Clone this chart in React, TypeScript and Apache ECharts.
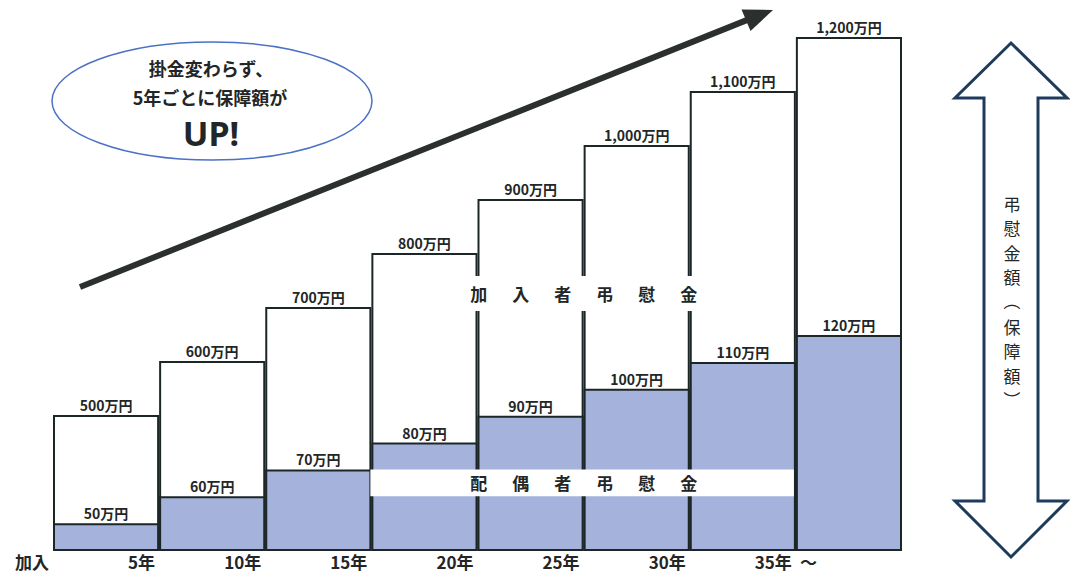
import React, { useEffect, useRef } from 'react';
import * as echarts from 'echarts';

// ---- data ----
const periods = ['加入〜5年', '5〜10年', '10〜15年', '15〜20年', '20〜25年', '25〜30年', '30〜35年', '35年〜'];
const memberBenefit = [500, 600, 700, 800, 900, 1000, 1100, 1200]; // 加入者弔慰金（万円）
const spouseBenefit = [50, 60, 70, 80, 90, 100, 110, 120]; // 配偶者弔慰金（万円）
const tickLabels = ['加入', '5年', '10年', '15年', '20年', '25年', '30年', '35年'];
const tickSuffix = '～';
const memberTitle = '加入者弔慰金';
const spouseTitle = '配偶者弔慰金';
const sideTitle = ['弔', '慰', '金', '額', '（', '保', '障', '額', '）'];
const bubbleLines = ['掛金変わらず、', '5年ごとに保障額が', 'UP!'];
// annotation ranges (category index from/to, value from/to)
const spouseBand = [3, 6, 60, 70];
const memberBand = [3, 6, 725];

const FONT = '"Noto Sans CJK JP", "Noto Sans", sans-serif';
const INK = '#222626';
const BORDER = '#1d2626';
const BLUE = '#a5b2dc';

const yen = (v: number) => `${v.toLocaleString('en-US')}万円`;

const spacedRich = (s: string) =>
  s.split('').map((c) => `{c|${c}}`).join('{s|　}');

export default function App() {
  const ref = useRef<HTMLDivElement>(null);
  useEffect(() => {
    const chart = echarts.init(ref.current!, null, { renderer: 'svg' });
    const gridH = 540;
    const whitePx = 0.54;
    const bluePx = 2.686;

    const sideTexts = sideTitle.map((ch, i) => {
      const isParen = ch === '（' || ch === '）';
      return {
        type: 'text',
        x: 1012,
        y: 203 + i * 24.6,
        rotation: isParen ? -Math.PI / 2 : 0,
        style: {
          text: ch, align: 'center', verticalAlign: 'middle',
          fontSize: 17, fill: INK, fontFamily: FONT,
        },
      };
    });

    const option: any = {
      animation: false,
      grid: { left: 53, right: 168, top: 10, bottom: 25 },
      xAxis: [
        { type: 'category', data: periods, show: false, position: 'bottom' },
        {
          type: 'value', min: 0, max: 8, interval: 1, position: 'bottom',
          axisLine: { show: false }, axisTick: { show: false }, splitLine: { show: false },
          axisLabel: {
            formatter: (v: number) => tickLabels[v] ?? '',
            align: 'right', padding: [0, 4, 0, 0], margin: 3,
            fontSize: 17, fontWeight: 'bold', color: INK, fontFamily: FONT,
          },
        },
        {
          type: 'value', min: 0, max: 8, interval: 1, position: 'bottom',
          axisLine: { show: false }, axisTick: { show: false }, splitLine: { show: false },
          axisLabel: {
            formatter: (v: number) => (v === tickLabels.length - 1 ? tickSuffix : ''),
            align: 'left', padding: [0, 0, 0, 4], margin: 3,
            fontSize: 17, fontWeight: 'bold', color: INK, fontFamily: FONT,
          },
        },
      ],
      yAxis: [
        { type: 'value', min: 250, max: 250 + gridH / whitePx, show: false, position: 'left' },
        { type: 'value', min: 40, max: 40 + gridH / bluePx, show: false, position: 'right' },
      ],
      series: [
        {
          type: 'bar', name: memberTitle, xAxisIndex: 0, yAxisIndex: 0,
          data: memberBenefit, barWidth: '100%', barGap: '-100%',
          itemStyle: { color: '#ffffff', borderColor: BORDER, borderWidth: 2 },
          label: {
            show: true, position: 'top', distance: 3,
            formatter: (p: any) => yen(memberBenefit[p.dataIndex]),
            fontSize: 14, fontWeight: 'bold', color: INK, fontFamily: FONT,
          },
        },
        {
          type: 'bar', name: spouseTitle, xAxisIndex: 0, yAxisIndex: 1,
          data: spouseBenefit, barWidth: '100%', barGap: '-100%',
          itemStyle: { color: BLUE, borderColor: BORDER, borderWidth: 2 },
          label: {
            show: true, position: 'top', distance: 3,
            formatter: (p: any) => yen(spouseBenefit[p.dataIndex]),
            fontSize: 14, fontWeight: 'bold', color: INK, fontFamily: FONT,
          },
        },
        {
          type: 'custom', xAxisIndex: 0, yAxisIndex: 1, z: 5,
          encode: { x: [0, 1], y: [2, 3] },
          data: [spouseBand],
          renderItem: (params: any, api: any) => {
            const p0 = api.coord([api.value(0), api.value(2)]);
            const p1 = api.coord([api.value(1), api.value(3)]);
            const bw = api.size([1, 0])[0];
            const x0 = p0[0] - bw / 2 - 1;
            const x1 = p1[0] + bw / 2 - 2;
            return {
              type: 'group',
              children: [
                { type: 'rect', shape: { x: x0, y: p1[1], width: x1 - x0, height: p0[1] - p1[1] }, style: { fill: '#ffffff' } },
                {
                  type: 'text', x: (p0[0] + p1[0]) / 2, y: (p0[1] + p1[1]) / 2,
                  style: {
                    text: spacedRich(spouseTitle), align: 'center', verticalAlign: 'middle',
                    rich: {
                      c: { fontSize: 17, fontWeight: 'bold', fill: INK, fontFamily: FONT },
                      s: { fontSize: 25, fontFamily: FONT },
                    },
                  },
                },
              ],
            };
          },
        },
        {
          type: 'custom', xAxisIndex: 0, yAxisIndex: 0, z: 5,
          encode: { x: [0, 1], y: 2 },
          data: [memberBand],
          renderItem: (params: any, api: any) => {
            const p0 = api.coord([api.value(0), api.value(2)]);
            const p1 = api.coord([api.value(1), api.value(2)]);
            return {
              type: 'text', x: (p0[0] + p1[0]) / 2, y: p0[1],
              style: {
                text: spacedRich(memberTitle), align: 'center', verticalAlign: 'middle',
                backgroundColor: '#ffffff', padding: [5, 8],
                rich: {
                  c: { fontSize: 17, fontWeight: 'bold', fill: INK, fontFamily: FONT },
                  s: { fontSize: 25, fontFamily: FONT },
                },
              },
            };
          },
        },
      ],
      graphic: [
        {
          type: 'ellipse', shape: { cx: 212, cy: 101, rx: 160, ry: 59 },
          style: { fill: '#ffffff', stroke: '#4b72c4', lineWidth: 1.5 },
        },
        {
          type: 'text', x: 211, y: 68,
          style: { text: bubbleLines[0], align: 'center', verticalAlign: 'middle', fontSize: 18, fontWeight: 'bold', fill: INK, fontFamily: FONT },
        },
        {
          type: 'text', x: 210, y: 97,
          style: { text: bubbleLines[1], align: 'center', verticalAlign: 'middle', fontSize: 18, fontWeight: 'bold', fill: INK, fontFamily: FONT },
        },
        {
          type: 'text', x: 211, y: 133,
          style: { text: bubbleLines[2], align: 'center', verticalAlign: 'middle', fontSize: 34, fontWeight: 'bold', fill: INK, fontFamily: '"Noto Sans", sans-serif' },
        },
        {
          type: 'line', shape: { x1: 80, y1: 287, x2: 748, y2: 19.6 },
          style: { stroke: '#2b302f', lineWidth: 6, lineCap: 'butt' },
        },
        {
          type: 'polygon', shape: { points: [[773, 10], [750.5, 31], [741.5, 9.5]] },
          style: { fill: '#2b302f' },
        },
        {
          type: 'polygon',
          shape: {
            points: [
              [1011, 43], [1067, 98], [1038, 98], [1038, 501], [1067, 501],
              [1011, 557], [955, 501], [984, 501], [984, 98], [955, 98],
            ],
          },
          style: { fill: '#ffffff', stroke: '#1f3b5c', lineWidth: 3, lineJoin: 'miter' },
        },
        ...sideTexts,
      ],
    };
    chart.setOption(option);
    return () => chart.dispose();
  }, []);
  return (
    <div
      ref={ref}
      style={{ position: 'fixed', left: 0, top: 0, width: 1070, height: 575, background: '#ffffff' }}
    />
  );
}
